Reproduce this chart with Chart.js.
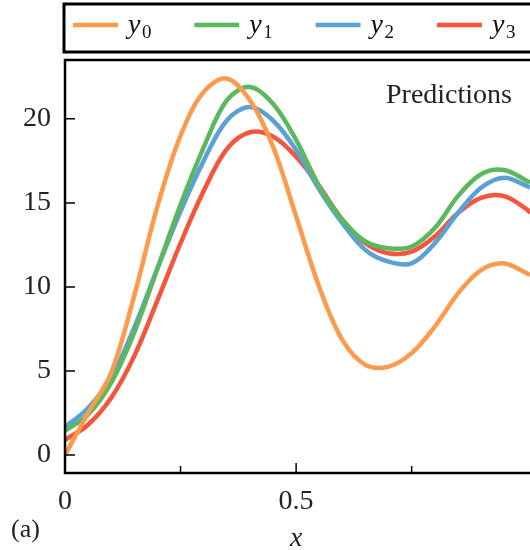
<!DOCTYPE html>
<html>
<head>
<meta charset="utf-8">
<script src="https://cdn.jsdelivr.net/npm/chart.js@4"></script>
<style>
  html, body { margin: 0; padding: 0; background: #fff; overflow: hidden; }
  #wrap { position: relative; width: 530px; height: 550px; }
</style>
</head>
<body>
<div id="wrap"><canvas id="predChart" width="530" height="550"></canvas></div>
<script>
var xs = [0, 0.05, 0.1, 0.15, 0.2, 0.25, 0.3, 0.35, 0.4, 0.45, 0.5, 0.55, 0.6, 0.65, 0.7, 0.75, 0.8, 0.85, 0.9, 0.95, 1.0, 1.006];
var y0 = [0, 2.5, 4.9, 9.5, 14.8, 19.0, 21.6, 22.4, 21.1, 18.35, 14.2, 10.0, 6.85, 5.36, 5.26, 6.06, 7.64, 9.6, 11.0, 11.4, 10.8, 10.7];
var y1 = [1.45, 2.4, 4.3, 7.3, 11.1, 14.9, 18.3, 21.1, 21.9, 20.9, 18.75, 16.0, 14.0, 12.7, 12.3, 12.4, 13.5, 15.4, 16.7, 16.96, 16.3, 16.2];
var y2 = [1.65, 2.8, 4.6, 7.6, 11.1, 14.5, 17.5, 19.9, 20.7, 19.9, 18.15, 15.8, 13.8, 12.2, 11.5, 11.4, 12.6, 14.4, 15.9, 16.5, 16.0, 15.9];
var y3 = [0.9, 1.8, 3.4, 5.9, 9.2, 12.6, 15.7, 18.2, 19.2, 18.95, 17.75, 16.0, 14.0, 12.6, 12.0, 12.1, 13.0, 14.4, 15.3, 15.4, 14.6, 14.4];

var seriesNames = ['y0', 'y1', 'y2', 'y3'];
var seriesColors = ['#fd9a4c', '#5cb85e', '#5aa2d5', '#f4553b'];
var yTicks = [0, 5, 10, 15, 20];
var xMajor = [0, 0.5];
var xMinor = [0.25, 0.75];

var serif = '"Liberation Serif", "DejaVu Serif", serif';

function pts(ys) {
  return xs.map(function(x, i) { return { x: x, y: ys[i] }; });
}

var allY = [y0, y1, y2, y3];
var datasets = allY.map(function(ys, i) {
  return {
    label: seriesNames[i],
    data: pts(ys),
    borderColor: seriesColors[i],
    borderWidth: 4.5,
    pointRadius: 0,
    tension: 0.35,
    fill: false
  };
});

// frame, inward ticks, legend box and text labels
var decorations = {
  id: 'decorations',
  afterDraw: function(chart) {
    var ctx = chart.ctx;
    var a = chart.chartArea;
    var xs_ = chart.scales.x;
    var ys_ = chart.scales.y;
    ctx.save();

    ctx.strokeStyle = '#000';
    ctx.lineWidth = 2.5;
    ctx.strokeRect(a.left, a.top, a.right - a.left + 20, a.bottom - a.top);

    ctx.lineWidth = 1.5;
    ctx.beginPath();
    yTicks.forEach(function(v) {
      var p = ys_.getPixelForValue(v);
      ctx.moveTo(a.left, p);
      ctx.lineTo(a.left + 10, p);
    });
    xMajor.forEach(function(v) {
      var p = xs_.getPixelForValue(v);
      ctx.moveTo(p, a.bottom);
      ctx.lineTo(p, a.bottom - 10);
    });
    xMinor.forEach(function(v) {
      var p = xs_.getPixelForValue(v);
      ctx.moveTo(p, a.bottom);
      ctx.lineTo(p, a.bottom - 7);
    });
    ctx.stroke();

    // legend box
    ctx.lineWidth = 3;
    ctx.strokeRect(64, 4, 520, 48);
    chart.data.datasets.forEach(function(ds, i) {
      var lx = 73 + i * 121.3;
      ctx.strokeStyle = ds.borderColor;
      ctx.lineWidth = 4.5;
      ctx.beginPath();
      ctx.moveTo(lx, 25);
      ctx.lineTo(lx + 45, 25);
      ctx.stroke();
      ctx.fillStyle = '#111';
      ctx.textBaseline = 'alphabetic';
      ctx.textAlign = 'left';
      ctx.font = 'italic 28px ' + serif;
      ctx.fillText(ds.label.charAt(0), lx + 55, 33);
      ctx.font = '19px ' + serif;
      ctx.fillText(ds.label.slice(1), lx + 69, 38);
    });

    ctx.fillStyle = '#222';
    ctx.font = '28px ' + serif;
    ctx.textAlign = 'right';
    ctx.fillText('Predictions', 512, 103);

    ctx.textAlign = 'left';
    ctx.font = '26px ' + serif;
    ctx.fillText('(a)', 11, 537);

    ctx.textAlign = 'center';
    ctx.font = 'italic 28px ' + serif;
    ctx.fillText('x', xs_.getPixelForValue(0.5), 546);
    ctx.restore();
  }
};

document.addEventListener('DOMContentLoaded', function() {
  var canvas = document.getElementById('predChart');
  new Chart(canvas.getContext('2d'), {
    type: 'line',
    data: { datasets: datasets },
    options: {
      responsive: false,
      animation: false,
      layout: { padding: { left: 0, top: 60, right: 0, bottom: 0 } },
      plugins: { legend: { display: false }, tooltip: { enabled: false } },
      scales: {
        x: {
          type: 'linear',
          min: 0,
          max: 1.006,
          grid: { display: false, drawTicks: false },
          border: { display: false },
          afterBuildTicks: function(scale) {
            scale.ticks = xMajor.map(function(v) { return { value: v }; });
          },
          afterFit: function(scale) { scale.height = 77; },
          ticks: {
            padding: 12,
            maxRotation: 0,
            color: '#222',
            font: { family: serif, size: 28 },
            callback: function(v) { return v === 0 ? '0' : String(v); }
          }
        },
        y: {
          min: -1.07,
          max: 23.5,
          grid: { display: false, drawTicks: false },
          border: { display: false },
          afterBuildTicks: function(scale) {
            scale.ticks = yTicks.map(function(v) { return { value: v }; });
          },
          afterFit: function(scale) { scale.width = 65; },
          ticks: {
            padding: 14,
            color: '#222',
            font: { family: serif, size: 28 }
          }
        }
      }
    },
    plugins: [decorations]
  });
});
</script>
</body>
</html>
